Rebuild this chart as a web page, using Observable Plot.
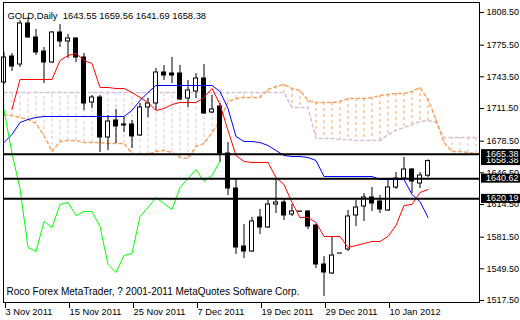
<!DOCTYPE html>
<html>
<head>
<meta charset="utf-8">
<script src="https://cdn.jsdelivr.net/npm/d3@7"></script>
<script src="https://cdn.jsdelivr.net/npm/@observablehq/plot@0.6"></script>
<style>
html, body { margin: 0; padding: 0; background: #fff; }
svg { display: block; }
</style>
</head>
<body>
<script>
// ---------- data ----------
const symbolTitle = "GOLD,Daily";
const lastOHLC = [1643.55, 1659.56, 1641.69, 1658.38];
const footerText = "Roco Forex MetaTrader, ? 2001-2011 MetaQuotes Software Corp.";

const dateTickBars = [0, 8, 16, 24, 32, 40, 48];
const dateLabels = ["3 Nov 2011", "15 Nov 2011", "25 Nov 2011", "7 Dec 2011", "19 Dec 2011", "29 Dec 2011", "10 Jan 2012"];

const priceTicks = [1808.5, 1775.5, 1743.5, 1711.5, 1678.5, 1646.5, 1614.5, 1581.5, 1549.5, 1517.5];
const levels = [1665.38, 1640.62, 1620.19];

const open = [1737.77, 1764.04, 1755.95, 1797.38, 1783.24, 1769.09, 1757.98, 1788.29, 1779.19, 1782.22,
  1763.03, 1717.56, 1722.61, 1682.20, 1699.37, 1695.33, 1695.33, 1684.22, 1712.51, 1716.55,
  1747.87, 1746.86, 1746.86, 1721.60, 1728.67, 1741.81, 1707.46, 1713.52, 1666.03, 1630.66,
  1572.06, 1567.01, 1601.36, 1591.26, 1614.50, 1616.52, 1604.39, 1607.20, 1607.43, 1593.28,
  1553.87, 1544.78, 1564.90, 1569.03, 1603.38, 1612.48, 1621.57, 1617.53, 1608.44, 1631.68,
  1640.77, 1649.86, 1635.72, 1643.55];
const high = [1768.08, 1767.07, 1800.41, 1803.44, 1791.32, 1773.13, 1789.30, 1796.37, 1786.27, 1783.24,
  1767.07, 1724.63, 1724.63, 1704.42, 1710.49, 1702.40, 1699.37, 1716.55, 1721.60, 1751.91,
  1754.94, 1763.03, 1754.94, 1739.79, 1746.86, 1755.95, 1724.63, 1716.55, 1677.14, 1640.77,
  1594.29, 1601.36, 1609.45, 1618.54, 1640.77, 1620.56, 1614.50, 1607.43, 1608.44, 1594.29,
  1561.96, 1581.16, 1565.00, 1608.44, 1618.54, 1625.61, 1631.68, 1623.59, 1639.76, 1646.83,
  1661.99, 1650.87, 1646.83, 1659.56];
const low = [1735.75, 1748.88, 1752.92, 1782.22, 1765.05, 1736.76, 1756.96, 1773.13, 1762.02, 1757.98,
  1709.48, 1711.50, 1667.04, 1669.06, 1676.13, 1687.25, 1671.08, 1683.21, 1702.40, 1709.48,
  1739.79, 1736.76, 1719.58, 1712.51, 1721.60, 1705.43, 1706.44, 1656.94, 1623.59, 1563.98,
  1559.94, 1566.00, 1584.19, 1590.25, 1605.40, 1598.33, 1602.37, 1607.20, 1589.24, 1549.83,
  1521.54, 1543.77, 1564.90, 1567.01, 1592.27, 1597.32, 1607.43, 1605.40, 1607.43, 1629.65,
  1639.76, 1625.61, 1630.66, 1641.69];
const close = [1763.03, 1753.93, 1797.38, 1783.24, 1768.08, 1757.98, 1788.29, 1779.19, 1782.22, 1763.03,
  1716.55, 1722.61, 1682.20, 1698.36, 1693.31, 1694.32, 1683.21, 1712.51, 1716.55, 1747.87,
  1744.84, 1744.84, 1720.59, 1729.68, 1741.81, 1706.44, 1710.49, 1666.03, 1630.66, 1571.05,
  1567.01, 1597.32, 1591.26, 1614.50, 1616.52, 1603.38, 1607.43, 1607.40, 1592.27, 1553.87,
  1545.79, 1562.97, 1565.00, 1602.37, 1611.47, 1621.57, 1615.51, 1609.45, 1631.68, 1640.77,
  1649.86, 1637.74, 1643.80, 1658.38];

// Ichimoku: Tenkan-sen (red), Kijun-sen (blue)
const tenkan = [null, 1710.49, 1740.80, 1740.80, 1740.80, 1740.80, 1740.80, 1760.00, 1765.05, 1767.07,
  1760.00, 1756.96, 1732.72, 1732.72, 1731.70, 1731.70, 1727.66, 1722.61, 1717.56, 1709.48,
  1711.50, 1715.54, 1717.56, 1717.56, 1717.56, 1722.61, 1731.70, 1715.54, 1689.27, 1664.01,
  1657.95, 1656.94, 1656.94, 1656.94, 1641.78, 1634.71, 1616.52, 1601.36, 1601.36, 1596.31,
  1582.17, 1582.17, 1582.17, 1571.05, 1573.07, 1575.09, 1577.11, 1577.11, 1582.17, 1593.28,
  1613.49, 1614.50, 1626.62, 1629.65];
const kijun = [1677.14, 1685.23, 1697.35, 1700.38, 1702.40, 1703.41, 1703.41, 1703.41, 1703.41, 1703.41,
  1703.41, 1703.41, 1703.41, 1703.41, 1703.41, 1703.41, 1709.48, 1719.58, 1727.66, 1734.74,
  1734.74, 1734.74, 1734.74, 1734.74, 1734.74, 1734.74, 1734.74, 1728.67, 1711.50, 1683.21,
  1678.15, 1678.15, 1677.14, 1674.11, 1669.06, 1664.01, 1663.00, 1663.00, 1661.99, 1658.96,
  1642.79, 1642.79, 1642.79, 1642.79, 1642.79, 1642.79, 1642.79, 1639.76, 1639.76, 1639.76,
  1639.76, 1624.60, 1617.53, 1601.36];
// Senkou Span A (sandy brown) and B (thistle), already shifted forward
const spanA = [1705.43, 1704.42, 1702.40, 1700.38, 1696.34, 1684.22, 1668.05, 1678.15, 1679.16, 1679.16,
  1677.14, 1677.14, 1677.14, 1676.13, 1676.13, 1676.13, 1666.03, 1665.02, 1665.02, 1668.05,
  1669.06, 1667.04, 1661.99, 1660.98, 1673.10, 1676.13, 1687.25, 1699.37, 1718.57, 1721.60,
  1722.61, 1722.61, 1722.61, 1730.69, 1733.73, 1735.75, 1731.70, 1729.68, 1719.58, 1717.56,
  1717.56, 1717.56, 1718.57, 1721.60, 1721.60, 1721.60, 1722.61, 1724.63, 1725.64, 1726.65,
  1726.65, 1728.67, 1732.72, 1720.59, 1700.38, 1677.14, 1668.05, 1668.05, 1667.04, 1666.03,
  1666.03];
const spanB = [1727.66, 1727.66, 1727.66, 1727.66, 1727.66, 1727.66, 1727.66, 1727.66, 1727.66, 1727.66,
  1727.66, 1727.66, 1727.66, 1727.66, 1727.66, 1727.66, 1727.66, 1727.66, 1727.66, 1727.66,
  1727.66, 1727.66, 1727.66, 1727.66, 1727.66, 1727.66, 1727.66, 1727.66, 1727.66, 1727.66,
  1727.66, 1727.66, 1727.66, 1727.66, 1727.66, 1727.66, 1712.51, 1712.51, 1712.51, 1681.18,
  1681.18, 1681.18, 1680.17, 1680.17, 1679.16, 1679.16, 1679.16, 1679.16, 1685.23, 1689.27,
  1692.30, 1695.33, 1698.36, 1699.37, 1697.35, 1682.20, 1682.20, 1682.20, 1682.20, 1682.20,
  1682.20];
const chikouShift = 26; // Chikou span = close plotted 26 bars back

// ---------- tables for the marks ----------
const candles = open.map((o, i) => ({i, o, h: high[i], l: low[i], c: close[i]}));
const series = arr => arr.map((v, i) => ({i, v})).filter(d => d.v != null);
const cloud = spanA.map((a, i) => ({i, a, b: spanB[i]}));
const chikou = close.slice(chikouShift).map((v, i) => ({i, v}));

const SANDY = "#F4A460", THISTLE = "#D8BFD8";
const FONT = "'Liberation Sans', Arial, sans-serif";
const fmt = d3.format(".2f");

const chart = Plot.plot({
  width: 520,
  height: 320,
  marginLeft: 3,
  marginRight: 41,
  marginTop: 2,
  marginBottom: 18,
  style: {fontFamily: FONT, fontSize: "9px", background: "#fff", color: "#000", overflow: "visible"},
  x: {domain: [-0.0625, 59.4375]},
  y: {domain: [1515.48, 1818.6]},
  marks: [
    // Kumo hatching
    Plot.ruleX(cloud.filter(d => d.a < d.b), {x: "i", y1: "a", y2: "b", stroke: THISTLE, strokeDasharray: "3,3", clip: true}),
    Plot.ruleX(cloud.filter(d => d.a >= d.b), {x: "i", y1: "a", y2: "b", stroke: SANDY, strokeDasharray: "3,3", clip: true}),
    Plot.line(cloud, {x: "i", y: "b", stroke: THISTLE, strokeDasharray: "3,3", clip: true}),
    Plot.line(cloud, {x: "i", y: "a", stroke: SANDY, strokeDasharray: "3,3", clip: true}),
    // candles
    Plot.ruleX(candles, {x: "i", y1: "l", y2: "h", stroke: "#000"}),
    Plot.rect(candles.filter(d => d.c >= d.o), {x1: d => d.i - 0.25, x2: d => d.i + 0.25, y1: "o", y2: "c", fill: "#fff", stroke: "#000"}),
    Plot.rect(candles.filter(d => d.c < d.o), {x1: d => d.i - 0.25, x2: d => d.i + 0.25, y1: "o", y2: "c", fill: "#000", stroke: "#000"}),
    // Ichimoku lines
    Plot.line(series(tenkan), {x: "i", y: "v", stroke: "#ff0000", strokeWidth: 1}),
    Plot.line(series(kijun), {x: "i", y: "v", stroke: "#0000ff", strokeWidth: 1}),
    Plot.line(chikou, {x: "i", y: "v", stroke: "#00ff00", strokeWidth: 1}),
    // horizontal levels
    Plot.ruleY(levels, {stroke: "#000", strokeWidth: 2}),
    Plot.frame({stroke: "#000"}),
    // axes
    Plot.axisY({anchor: "right", ticks: priceTicks, tickFormat: fmt, tickSize: 4, tickPadding: 3, label: null, fontSize: 9}),
    Plot.axisX({ticks: dateTickBars, tickFormat: d => dateLabels[dateTickBars.indexOf(d)], tickSize: 6, tickPadding: 0, textAnchor: "start", dx: 1.5, label: null, fontSize: 9.3}),
    // title & footer
    Plot.text([`${symbolTitle}\u00a0 ${lastOHLC.map(fmt).join(" ")}`], {frameAnchor: "top-left", textAnchor: "start", dx: 4, dy: 9.5, fontSize: 9.4}),
    Plot.text([footerText], {frameAnchor: "bottom-left", textAnchor: "start", dx: 3, dy: -8, fontSize: 10})
  ]
});

// price label boxes on the right scale
const ys = chart.scale("y"), xs = chart.scale("x");
const xr = xs.range[1];
const priceBoxes = [lastOHLC[3], ...levels];
const g = d3.select(chart).append("g")
  .attr("font-family", FONT).attr("font-size", 9).attr("text-anchor", "start");
for (const v of priceBoxes) {
  const y = ys.apply(v);
  g.append("rect").attr("x", xr + 2).attr("y", y - 4.5).attr("width", 39).attr("height", 9).attr("fill", "#000");
  g.append("text").attr("x", xr + 7).attr("y", y).attr("dy", "0.32em")
    .attr("text-anchor", "start").attr("fill", "#fff").text(fmt(v));
}

document.body.appendChild(chart);
</script>
</body>
</html>
